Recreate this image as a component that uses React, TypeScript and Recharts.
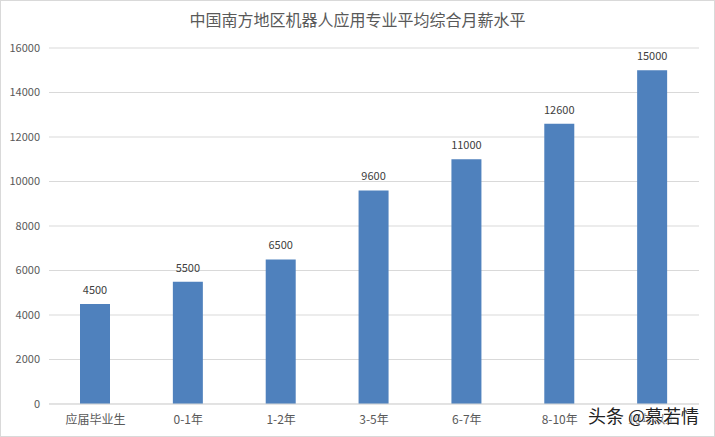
import React from "react";
import { BarChart, Bar, XAxis, YAxis, CartesianGrid, LabelList } from "recharts";

const categories = ["应届毕业生", "0-1年", "1-2年", "3-5年", "6-7年", "8-10年", "10年以上"];
const salaries = [4500, 5500, 6500, 9600, 11000, 12600, 15000];
const yTicks = [0, 2000, 4000, 6000, 8000, 10000, 12000, 14000, 16000];
const titleText = "中国南方地区机器人应用专业平均综合月薪水平";
const watermark = "头条 @慕若情";

const rows = categories.map((name, i) => ({ name, value: salaries[i] }));
const FONT = '"Microsoft YaHei","Noto Sans CJK SC",sans-serif';

export default function App() {
  return (
    <div style={{ position: "absolute", left: 0, top: 0, width: 715, height: 437, background: "#fff", boxSizing: "border-box", border: "1px solid #d9d9d9", overflow: "hidden", fontFamily: FONT }}>
      <div style={{ position: "absolute", left: -1, top: 8, width: 715, textAlign: "center", fontSize: 16, lineHeight: "20px", color: "#595959" }}>{titleText}</div>
      <div style={{ position: "absolute", left: -1, top: -1 }}>
        <BarChart width={715} height={437} data={rows} margin={{ top: 48, right: 16, bottom: 0, left: 0 }} barCategoryGap="34%">
          <CartesianGrid vertical={false} stroke="#d9d9d9" strokeWidth={1} />
          <XAxis dataKey="name" height={33} interval={0} tickLine={false} axisLine={{ stroke: "#d9d9d9" }} tick={{ fontSize: 12, fill: "#595959", fontFamily: FONT }} tickMargin={5} />
          <YAxis width={49} domain={[0, 16000]} ticks={yTicks} interval={0} tickLine={false} axisLine={false} tick={{ fontSize: 11, fill: "#595959", fontFamily: FONT }} tickMargin={3} />
          <Bar dataKey="value" fill="#4f81bd" barSize={30} isAnimationActive={false}>
            <LabelList dataKey="value" position="top" offset={10} style={{ fontSize: 11, fill: "#404040", fontFamily: FONT }} />
          </Bar>
        </BarChart>
      </div>
      <div style={{ position: "absolute", left: 587, top: 403, fontSize: 18, lineHeight: "22px", color: "#222", whiteSpace: "nowrap", textShadow: "0 0 2px #fff, 0 0 2px #fff, 0 0 2px #fff" }}>{watermark}</div>
    </div>
  );
}
